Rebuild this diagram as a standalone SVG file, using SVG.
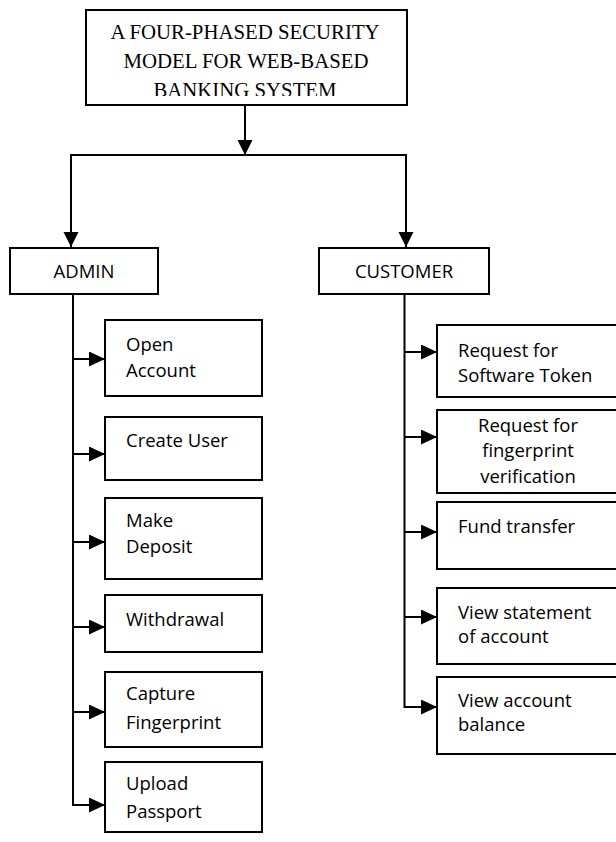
<svg xmlns="http://www.w3.org/2000/svg" width="616" height="842" viewBox="0 0 616 842">
<style>
.box{fill:#fff;stroke:#000;stroke-width:2}
.ln{fill:none;stroke:#000;stroke-width:2}
.t{font-family:"Open Sans","Noto Sans",sans-serif;font-size:18.5px;fill:#000}
.tt{font-family:"Liberation Serif","Times New Roman",serif;font-size:20.8px;fill:#000}
</style>
<defs>
<marker id="ah" markerUnits="userSpaceOnUse" markerWidth="16" markerHeight="16" refX="15" refY="7.5" orient="auto">
<path d="M0,0 L15,7.5 L0,15 Z" fill="#000"/>
</marker>
<marker id="ahs" markerUnits="userSpaceOnUse" markerWidth="16" markerHeight="16" refX="16" refY="7.5" orient="auto">
<path d="M0,0 L16,7.5 L0,15 Z" fill="#000"/>
</marker>
<clipPath id="tc"><rect x="80" y="0" width="340" height="96"/></clipPath>
</defs>
<g id="connectors">
<path class="ln" d="M245,105 V155" marker-end="url(#ah)"/>
<path class="ln" d="M71,248 V155 H406 V248"/>
<path class="ln" d="M71,160 V247" marker-end="url(#ah)"/>
<path class="ln" d="M406,160 V247" marker-end="url(#ah)"/>
<path class="ln" d="M73,294 V805 H105" marker-end="url(#ahs)"/>
<path class="ln" d="M73,359 H105" marker-end="url(#ahs)"/>
<path class="ln" d="M73,454 H105" marker-end="url(#ahs)"/>
<path class="ln" d="M73,542 H105" marker-end="url(#ahs)"/>
<path class="ln" d="M73,627 H105" marker-end="url(#ahs)"/>
<path class="ln" d="M73,712 H105" marker-end="url(#ahs)"/>
<path class="ln" d="M404.5,294 V707 H437" marker-end="url(#ahs)"/>
<path class="ln" d="M404.5,352 H437" marker-end="url(#ahs)"/>
<path class="ln" d="M404.5,437 H437" marker-end="url(#ahs)"/>
<path class="ln" d="M404.5,532 H437" marker-end="url(#ahs)"/>
<path class="ln" d="M404.5,617 H437" marker-end="url(#ahs)"/>
</g>
<g id="title">
<rect class="box" x="86" y="10" width="321" height="95"/>
<g clip-path="url(#tc)">
<text class="tt" x="245" y="39" text-anchor="middle">A FOUR-PHASED SECURITY</text>
<text class="tt" x="246" y="68" text-anchor="middle">MODEL FOR WEB-BASED</text>
<text class="tt" x="245" y="97" text-anchor="middle">BANKING SYSTEM</text>
</g>
</g>
<g id="admin">
<rect class="box" x="10" y="248" width="148" height="46"/>
<text class="t" x="84" y="278" text-anchor="middle">ADMIN</text>
</g>
<g id="customer">
<rect class="box" x="319" y="248" width="170" height="46"/>
<text class="t" x="404" y="278" text-anchor="middle">CUSTOMER</text>
</g>
<g id="open-account">
<rect class="box" x="105" y="320" width="157" height="76"/>
<text class="t" x="126" y="351">Open</text>
<text class="t" x="126" y="377">Account</text>
</g>
<g id="create-user">
<rect class="box" x="105" y="417" width="157" height="63"/>
<text class="t" x="126" y="447">Create User</text>
</g>
<g id="make-deposit">
<rect class="box" x="105" y="498" width="157" height="81"/>
<text class="t" x="126" y="527">Make</text>
<text class="t" x="126" y="553">Deposit</text>
</g>
<g id="withdrawal">
<rect class="box" x="105" y="595" width="157" height="57"/>
<text class="t" x="126" y="626">Withdrawal</text>
</g>
<g id="capture-fingerprint">
<rect class="box" x="105" y="672" width="157" height="75"/>
<text class="t" x="126" y="700">Capture</text>
<text class="t" x="126" y="729">Fingerprint</text>
</g>
<g id="upload-passport">
<rect class="box" x="105" y="762" width="157" height="70"/>
<text class="t" x="126" y="790">Upload</text>
<text class="t" x="126" y="818">Passport</text>
</g>
<g id="software-token">
<rect class="box" x="437" y="325" width="190" height="72"/>
<text class="t" x="458" y="357">Request for</text>
<text class="t" x="458" y="382">Software Token</text>
</g>
<g id="fingerprint-verification">
<rect class="box" x="437" y="410" width="190" height="83"/>
<text class="t" x="528" y="432" text-anchor="middle">Request for</text>
<text class="t" x="528" y="457" text-anchor="middle">fingerprint</text>
<text class="t" x="528" y="483" text-anchor="middle">verification</text>
</g>
<g id="fund-transfer">
<rect class="box" x="437" y="502" width="190" height="67"/>
<text class="t" x="458" y="533">Fund transfer</text>
</g>
<g id="view-statement">
<rect class="box" x="437" y="588" width="190" height="76"/>
<text class="t" x="458" y="619">View statement</text>
<text class="t" x="458" y="643">of account</text>
</g>
<g id="view-balance">
<rect class="box" x="437" y="677" width="190" height="77"/>
<text class="t" x="458" y="707">View account</text>
<text class="t" x="458" y="731">balance</text>
</g>
</svg>
